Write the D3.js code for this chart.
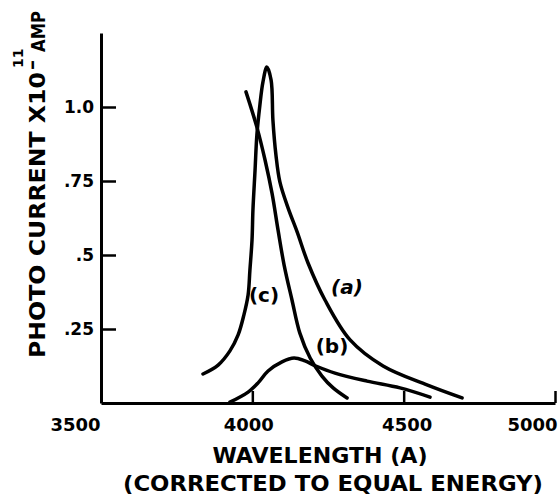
<!DOCTYPE html>
<html>
<head>
<meta charset="utf-8">
<script src="https://cdn.jsdelivr.net/npm/d3@7"></script>
<style>
  body { margin: 0; background: #fff; }
  text { font-family: "DejaVu Sans", sans-serif; fill: #000; }
</style>
</head>
<body>
<div id="plot"></div>
<script>
// photo current vs wavelength, curves

const waveA = [3837, 3887, 3926, 3953, 3972, 3986, 3992, 3999, 4002, 4009, 4015, 4025, 4035, 4048, 4062, 4068, 4078, 4091, 4118, 4148, 4184, 4240, 4323, 4432, 4577, 4693];
const currA = [0.098, 0.128, 0.176, 0.230, 0.297, 0.365, 0.449, 0.551, 0.652, 0.787, 0.905, 1.007, 1.084, 1.135, 1.091, 0.956, 0.838, 0.747, 0.659, 0.578, 0.473, 0.348, 0.213, 0.125, 0.061, 0.017];

const waveB = [3926, 3986, 4019, 4052, 4098, 4138, 4174, 4210, 4273, 4379, 4488, 4587];
const currB = [0.003, 0.037, 0.068, 0.108, 0.139, 0.152, 0.142, 0.125, 0.101, 0.074, 0.051, 0.020];

const waveC = [3979, 4015, 4042, 4065, 4085, 4105, 4131, 4157, 4191, 4230, 4267, 4313];
const currC = [1.051, 0.932, 0.821, 0.709, 0.584, 0.466, 0.348, 0.236, 0.152, 0.091, 0.051, 0.017];

const xTicks = [3500, 4000, 4500, 5000];
const yTicks = [0.25, 0.5, 0.75, 1.0];
const yTickLabels = [".25", ".5", ".75", "1.0"];

const w = 560;
const h = 497;
const margin = {top: 33, right: 5, bottom: 94, left: 101};

const svg = d3.select("div#plot")
    .append("svg")
    .attr("width", w)
    .attr("height", h);

const xScale = d3.scaleLinear()
    .domain([3500, 5000])
    .range([margin.left, 555]);

const yScale = d3.scaleLinear()
    .domain([0, 1.25])
    .range([h - margin.bottom, margin.top]);

// y axis, ticks pointing inward
const yAxis = d3.axisLeft(yScale)
    .tickValues(yTicks)
    .tickFormat((d, i) => yTickLabels[i])
    .tickSize(-15)
    .tickSizeOuter(0)
    .tickPadding(7);

const gy = svg.append("g")
    .attr("transform", `translate(${margin.left}, 0)`)
    .call(yAxis);

gy.select(".domain").attr("stroke-width", 3);
gy.selectAll(".tick line").attr("stroke-width", 2.5);
gy.selectAll("text")
    .style("font-family", "DejaVu Sans")
    .style("font-weight", "bold")
    .style("font-size", "17px")
    .attr("fill", "#000");

// x axis
const xAxis = d3.axisBottom(xScale)
    .tickValues(xTicks)
    .tickFormat(d3.format("d"))
    .tickSize(-12)
    .tickSizeOuter(0);

const gx = svg.append("g")
    .attr("transform", `translate(0, ${yScale(0)})`)
    .call(xAxis);

gx.select(".domain").attr("stroke-width", 3);
gx.selectAll(".tick line").attr("stroke-width", 2.5);
gx.selectAll(".tick").filter(d => d === 3500).select("line").remove();
gx.selectAll("text")
    .style("font-family", "DejaVu Sans")
    .style("font-weight", "bold")
    .style("font-size", "18px")
    .attr("fill", "#000")
    .attr("y", 28)
    .attr("dy", 0)
    .attr("text-anchor", d => (d === 3500 || d === 5000) ? "end" : "middle")
    .attr("dx", d => d === 3500 ? -1 : d === 5000 ? 2 : d === 4000 ? -4 : 3);

// curves
const line = d3.line()
    .x(d => xScale(d[0]))
    .y(d => yScale(d[1]))
    .curve(d3.curveCatmullRom.alpha(0.5));

const curves = [
  d3.zip(waveA, currA),
  d3.zip(waveB, currB),
  d3.zip(waveC, currC)
];

svg.append("g")
  .selectAll("path")
  .data(curves)
  .enter().append("path")
    .attr("d", line)
    .attr("fill", "none")
    .attr("stroke", "#000")
    .attr("stroke-width", 3.5)
    .attr("stroke-linecap", "round")
    .attr("stroke-linejoin", "round");

// curve labels
svg.append("text")
    .attr("x", 264).attr("y", 302)
    .attr("text-anchor", "middle")
    .style("font-size", "20px").style("font-weight", "bold")
    .text("(c)");

svg.append("text")
    .attr("x", 347).attr("y", 294)
    .attr("text-anchor", "middle")
    .style("font-size", "20px").style("font-weight", "bold").style("font-style", "italic")
    .text("(a)");

svg.append("text")
    .attr("x", 332).attr("y", 353)
    .attr("text-anchor", "middle")
    .style("font-size", "20px").style("font-weight", "bold")
    .text("(b)");

// axis titles
svg.append("text")
    .attr("x", 320).attr("y", 463)
    .attr("text-anchor", "middle")
    .attr("textLength", 215)
    .attr("lengthAdjust", "spacingAndGlyphs")
    .style("font-size", "22px").style("font-weight", "bold")
    .text("WAVELENGTH (A)");

svg.append("text")
    .attr("x", 333).attr("y", 491)
    .attr("text-anchor", "middle")
    .attr("textLength", 420)
    .attr("lengthAdjust", "spacingAndGlyphs")
    .style("font-size", "22px").style("font-weight", "bold")
    .text("(CORRECTED TO EQUAL ENERGY)");

const ylab = svg.append("g");

ylab.append("text")
    .attr("transform", "translate(45, 358) rotate(-90)")
    .attr("textLength", 286)
    .attr("lengthAdjust", "spacingAndGlyphs")
    .style("font-size", "22px").style("font-weight", "bold")
    .text("PHOTO CURRENT X10");

ylab.append("text")
    .attr("transform", "translate(45, 70) rotate(-90)")
    .attr("dy", "-0.35em")
    .style("font-size", "20px").style("font-weight", "bold")
    .text("\u2013");

ylab.append("text")
    .attr("transform", "translate(23, 68) rotate(-90)")
    .style("font-size", "14px").style("font-weight", "bold")
    .text("11");

ylab.append("text")
    .attr("transform", "translate(45, 52) rotate(-90)")
    .attr("textLength", 41)
    .attr("lengthAdjust", "spacingAndGlyphs")
    .style("font-size", "20px").style("font-weight", "bold")
    .text("AMP");
</script>
</body>
</html>
